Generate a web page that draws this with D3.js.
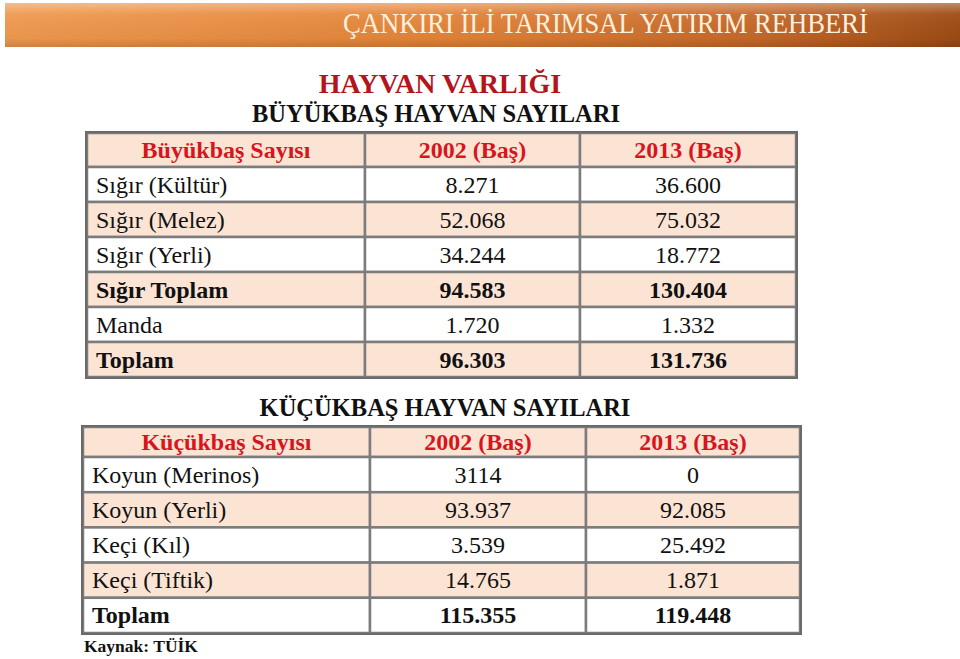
<!DOCTYPE html>
<html>
<head>
<meta charset="utf-8">
<script src="https://cdn.jsdelivr.net/npm/d3@7"></script>
<style>
  body { margin: 0; background: #fff; }
  svg { display: block; font-family: "Liberation Serif", "Times New Roman", serif; }
</style>
</head>
<body>
<svg id="chart" width="960" height="659"></svg>
<script>
// --- data ---
var bigHeaders = ["Büyükbaş Sayısı", "2002 (Baş)", "2013 (Baş)"];
var bigCategories = ["Sığır (Kültür)", "Sığır (Melez)", "Sığır (Yerli)", "Sığır Toplam", "Manda", "Toplam"];
var big2002 = ["8.271", "52.068", "34.244", "94.583", "1.720", "96.303"];
var big2013 = ["36.600", "75.032", "18.772", "130.404", "1.332", "131.736"];
var bigBold = [false, false, false, true, false, true];

var smallHeaders = ["Küçükbaş Sayısı", "2002 (Baş)", "2013 (Baş)"];
var smallCategories = ["Koyun (Merinos)", "Koyun (Yerli)", "Keçi (Kıl)", "Keçi (Tiftik)", "Toplam"];
var small2002 = ["3114", "93.937", "3.539", "14.765", "115.355"];
var small2013 = ["0", "92.085", "25.492", "1.871", "119.448"];
var smallBold = [false, false, false, false, true];

var svg = d3.select("#chart");

// banner
var defs = svg.append("defs");
var hg = defs.append("linearGradient").attr("id", "bannerH");
hg.append("stop").attr("offset", "0%").attr("stop-color", "#f09a50");
hg.append("stop").attr("offset", "45%").attr("stop-color", "#e4853a");
hg.append("stop").attr("offset", "80%").attr("stop-color", "#c4682a");
hg.append("stop").attr("offset", "100%").attr("stop-color", "#9e4c14");
var vg = defs.append("linearGradient").attr("id", "bannerV")
  .attr("x1", 0).attr("y1", 0).attr("x2", 0).attr("y2", 1);
vg.append("stop").attr("offset", "0%").attr("stop-color", "#fff").attr("stop-opacity", 0.35);
vg.append("stop").attr("offset", "25%").attr("stop-color", "#fff").attr("stop-opacity", 0.05);
vg.append("stop").attr("offset", "80%").attr("stop-color", "#000").attr("stop-opacity", 0.03);
vg.append("stop").attr("offset", "100%").attr("stop-color", "#000").attr("stop-opacity", 0.15);

svg.append("rect").attr("x", 5).attr("y", 3).attr("width", 955).attr("height", 44).attr("fill", "url(#bannerH)");
svg.append("rect").attr("x", 5).attr("y", 3).attr("width", 955).attr("height", 44).attr("fill", "url(#bannerV)");
svg.append("text")
  .attr("x", 343).attr("y", 33)
  .attr("textLength", 525).attr("lengthAdjust", "spacingAndGlyphs")
  .attr("font-size", 30).attr("fill", "#fcf0de")
  .text("ÇANKIRI İLİ TARIMSAL YATIRIM REHBERİ");

// titles
svg.append("text").attr("x", 440).attr("y", 93).attr("text-anchor", "middle")
  .attr("font-size", 28).attr("font-weight", "bold").attr("fill", "#b3151b")
  .text("HAYVAN VARLIĞI");
svg.append("text").attr("x", 436).attr("y", 122).attr("text-anchor", "middle")
  .attr("font-size", 24.5).attr("font-weight", "bold").attr("fill", "#111")
  .text("BÜYÜKBAŞ HAYVAN SAYILARI");
svg.append("text").attr("x", 445).attr("y", 416).attr("text-anchor", "middle")
  .attr("font-size", 24.5).attr("font-weight", "bold").attr("fill", "#111")
  .text("KÜÇÜKBAŞ HAYVAN SAYILARI");

function drawTable(opt){
  var rows = [{cells: opt.headers, header: true, bold: true}];
  opt.categories.forEach(function(c, i){
    rows.push({cells: [c, opt.v2002[i], opt.v2013[i]], header: false, bold: opt.bold[i]});
  });
  // header row has its own height, body rows share the rest
  var y = d3.scaleLinear().domain([1, rows.length]).range([opt.headerBottom, opt.bottom]);
  var top = function(i){ return i === 0 ? opt.top : y(i); };
  var h = function(i){ return i === 0 ? opt.headerBottom - opt.top : y(i + 1) - y(i); };
  var cols = opt.cols; // column edges
  var g = svg.append("g");

  var row = g.selectAll("g.row").data(rows).enter().append("g").classed("row", true)
    .attr("transform", function(d, i){ return "translate(0," + top(i) + ")"; });

  row.each(function(d, i){
    var r = d3.select(this);
    var fill = opt.fills[i];
    for(var c = 0; c < 3; c++){
      r.append("rect")
        .attr("x", cols[c]).attr("y", 0)
        .attr("width", cols[c + 1] - cols[c]).attr("height", h(i))
        .attr("fill", fill)
        .attr("stroke", "#7c7c7c").attr("stroke-width", 2.5);
      var t = r.append("text")
        .attr("y", h(i) / 2 + 8)
        .attr("font-size", 24)
        .attr("font-weight", d.bold ? "bold" : "normal")
        .attr("fill", d.header ? "#d8141c" : "#111")
        .text(d.cells[c]);
      if(c === 0 && !d.header){
        t.attr("x", cols[0] + opt.pad);
      }
      else{
        t.attr("x", (cols[c] + cols[c + 1]) / 2).attr("text-anchor", "middle");
      }
    }
  });

  g.append("rect")
    .attr("x", cols[0] - 1).attr("y", opt.top - 1)
    .attr("width", cols[3] - cols[0] + 2).attr("height", opt.bottom - opt.top + 2)
    .attr("fill", "none").attr("stroke", "#6a6a6a").attr("stroke-width", 2);
}

var peach = "#fce4d5";
drawTable({
  headers: bigHeaders, categories: bigCategories, v2002: big2002, v2013: big2013, bold: bigBold,
  cols: [87, 365, 580, 796], top: 133, headerBottom: 167, bottom: 377, pad: 9,
  fills: [peach, "#fff", peach, "#fff", peach, "#fff", peach]
});
drawTable({
  headers: smallHeaders, categories: smallCategories, v2002: small2002, v2013: small2013, bold: smallBold,
  cols: [83, 370, 586, 800], top: 427, headerBottom: 457, bottom: 633, pad: 9,
  fills: [peach, "#fff", peach, "#fff", peach, "#fff"]
});

svg.append("text").attr("x", 84).attr("y", 652)
  .attr("font-size", 17.5).attr("font-weight", "bold").attr("fill", "#111")
  .text("Kaynak: TÜİK");
</script>
</body>
</html>
